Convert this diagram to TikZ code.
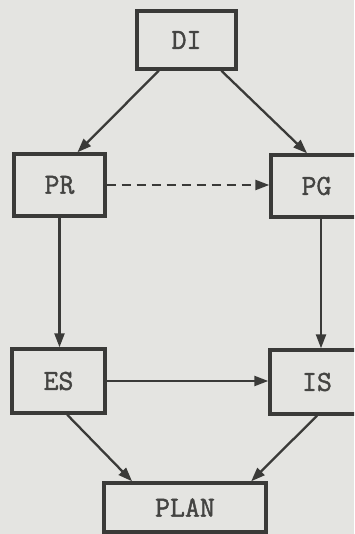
\documentclass[tikz,border=0pt]{standalone}
\usepackage{fontspec}
\newfontfamily\typer[FakeBold=1.5]{Latin Modern Mono}
\usetikzlibrary{arrows.meta,calc}
\definecolor{paper}{RGB}{228,228,225}
\definecolor{ink}{RGB}{58,58,56}
\definecolor{txt}{RGB}{68,68,66}
\tikzset{
  box/.style={draw=ink, line width=3.4pt, fill=none, inner sep=0pt, text=txt,
    font=\fontsize{29}{32}\selectfont\typer\bfseries},
  link/.style={draw=ink, line width=2.3pt, -{Triangle[length=14pt,width=10pt]}},
  dashlink/.style={link, dash pattern=on 9pt off 6pt}
}
\begin{document}
\begin{tikzpicture}[x=1pt,y=-1pt]
\useasboundingbox (0,0) rectangle (354,534);
\fill[paper] (0,0) rectangle (354,534);
\clip (0,0) rectangle (354,534);
\node[box, minimum width=99pt, minimum height=58pt] (DI) at (186.5,40) {DI};
\node[box, minimum width=91pt, minimum height=62pt] (PR) at (59.5,185) {PR};
\node[box, minimum width=91pt, minimum height=62pt] (PG) at (316.5,186) {PG};
\node[box, minimum width=93pt, minimum height=64pt] (ES) at (58.5,381) {ES};
\node[box, minimum width=94pt, minimum height=64pt] (IS) at (317,382) {IS};
\node[box, minimum width=162pt, minimum height=49pt] (PLAN) at (185,507.5) {PLAN};
\draw[link] ($(DI.south west)!0.23!(DI.south east)$) -- ($(PR.north west)!0.69!(PR.north east)$);
\draw[link] ($(DI.south west)!0.84!(DI.south east)$) -- ($(PG.north west)!0.40!(PG.north east)$);
\draw[dashlink] (PR.east) -- (PR.east -| PG.west);
\draw[link] (PR.south) -- (PR.south |- ES.north);
\draw[link] ([xshift=4.5pt]PG.south) -- ([xshift=4.5pt]PG.south |- IS.north);
\draw[link] (ES.east) -- (ES.east -| IS.west);
\draw[link] ($(ES.south west)!0.59!(ES.south east)$) -- ($(PLAN.north west)!0.18!(PLAN.north east)$);
\draw[link] ($(IS.south west)!0.50!(IS.south east)$) -- ($(PLAN.north west)!0.90!(PLAN.north east)$);
\end{tikzpicture}
\end{document}
